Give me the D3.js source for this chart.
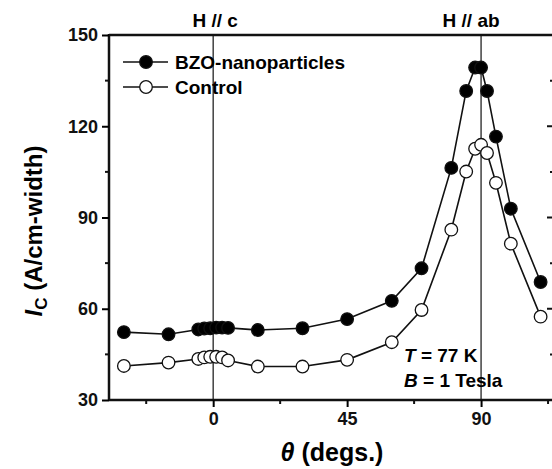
<!DOCTYPE html>
<html>
<head>
<meta charset="utf-8">
<script src="https://cdn.jsdelivr.net/npm/d3@7"></script>
<style>
  body { margin: 0; background: #fff; }
  svg { display: block; font-family: "Liberation Sans", Arial, sans-serif; font-weight: bold; }
</style>
</head>
<body>
<svg id="chart" width="552" height="469"></svg>
<script>
// angle (degs.) between field and sample
const angles = [-30, -15, -5, -3, -1, 1, 3, 5, 15, 30, 45, 60, 70, 80, 85, 88, 90, 92, 95, 100, 110];
const bzo = [52.3, 51.6, 53.2, 53.5, 53.6, 53.8, 53.8, 53.7, 53.0, 53.6, 56.6, 62.6, 73.3, 106.3, 131.6, 139.3, 139.3, 131.6, 116.6, 92.9, 68.8];
const control = [41.2, 42.3, 43.5, 44.0, 44.2, 44.2, 44.0, 43.0, 41.0, 41.0, 43.2, 49.0, 59.6, 86.0, 105.1, 112.6, 113.9, 111.2, 101.4, 81.4, 57.4];
const xTicks = [0, 45, 90];
const xMinor = [-22.5, 22.5, 67.5, 112.5];
const yTicks = [30, 60, 90, 120, 150];
const yMinor = [45, 75, 105, 135];
const refLines = [{ at: 0, label: 'H // c', dx: 2 }, { at: 90, label: 'H // ab', dx: -10 }];

const svg = d3.select('#chart');
const x = d3.scaleLinear().domain([-35, 114.5]).range([109, 554]);
const y = d3.scaleLinear().domain([30, 150]).range([400, 35]);

// reference lines for field orientation
refLines.forEach(r => {
  svg.append('line')
    .attr('x1', x(r.at)).attr('x2', x(r.at))
    .attr('y1', y(150)).attr('y2', y(30))
    .attr('stroke', '#333').attr('stroke-width', 1.4);
  svg.append('text')
    .attr('x', x(r.at) + r.dx).attr('y', 27)
    .attr('text-anchor', 'middle').attr('font-size', 19)
    .text(r.label);
});

// frame
const axisW = 2.5;
svg.append('line').attr('x1', x.range()[0]).attr('x2', 560).attr('y1', y(150)).attr('y2', y(150))
  .attr('stroke', '#111').attr('stroke-width', axisW);
svg.append('line').attr('x1', x.range()[0]).attr('x2', 560).attr('y1', y(30)).attr('y2', y(30))
  .attr('stroke', '#111').attr('stroke-width', axisW);
svg.append('line').attr('x1', x.range()[0]).attr('x2', x.range()[0]).attr('y1', y(150) - 1).attr('y2', y(30) + 1)
  .attr('stroke', '#111').attr('stroke-width', axisW);
svg.append('line').attr('x1', x.range()[1]).attr('x2', x.range()[1]).attr('y1', y(150)).attr('y2', y(30))
  .attr('stroke', '#111').attr('stroke-width', axisW);

const left = svg.append('g').attr('transform', 'translate(' + x.range()[0] + ',0)')
  .call(d3.axisLeft(y).tickValues(yTicks).tickSize(7).tickPadding(4));
left.select('.domain').remove();
left.selectAll('.tick line').attr('stroke-width', 2);
left.selectAll('.tick text').attr('font-size', 18).attr('font-family', null).attr('fill', '#111');
svg.append('g').attr('transform', 'translate(' + x.range()[0] + ',0)')
  .selectAll('line').data(yMinor).join('line')
  .attr('x1', -4).attr('x2', 0).attr('y1', d => y(d)).attr('y2', d => y(d))
  .attr('stroke', '#111').attr('stroke-width', 2);

// right axis ticks point inward
svg.append('g').selectAll('line').data(yTicks.concat(yMinor)).join('line')
  .attr('x1', d => x.range()[1] - (yTicks.includes(d) ? 7 : 4)).attr('x2', x.range()[1])
  .attr('y1', d => y(d)).attr('y2', d => y(d))
  .attr('stroke', '#111').attr('stroke-width', 2);

const bottom = svg.append('g').attr('transform', 'translate(0,' + y(30) + ')')
  .call(d3.axisBottom(x).tickValues(xTicks).tickSize(7).tickPadding(5));
bottom.select('.domain').remove();
bottom.selectAll('.tick line').attr('stroke-width', 2);
bottom.selectAll('.tick text').attr('font-size', 18).attr('font-family', null).attr('fill', '#111');
svg.append('g').attr('transform', 'translate(0,' + y(30) + ')')
  .selectAll('line').data(xMinor).join('line')
  .attr('x1', d => x(d)).attr('x2', d => x(d)).attr('y1', 0).attr('y2', 4)
  .attr('stroke', '#111').attr('stroke-width', 2);

// axis titles
const xt = svg.append('text').attr('x', 332).attr('y', 461).attr('text-anchor', 'middle').attr('font-size', 25);
xt.append('tspan').attr('font-style', 'italic').text('θ');
xt.append('tspan').text(' (degs.)');

const yt = svg.append('text').attr('transform', 'translate(42,231) rotate(-90)')
  .attr('text-anchor', 'middle').attr('font-size', 24);
yt.append('tspan').attr('font-style', 'italic').text('I');
yt.append('tspan').attr('font-size', 17).attr('dy', 5).text('C');
yt.append('tspan').attr('dy', -5).text(' (A/cm-width)');

// series
const series = [
  { name: 'BZO-nanoparticles', values: bzo, fill: '#000' },
  { name: 'Control', values: control, fill: '#fff' }
];
const line = d3.line().x((d, i) => x(angles[i])).y(d => y(d));

series.forEach(s => {
  svg.append('path').datum(s.values)
    .attr('d', line).attr('fill', 'none')
    .attr('stroke', '#111').attr('stroke-width', 1.6);
  svg.append('g').selectAll('circle').data(s.values).join('circle')
    .attr('cx', (d, i) => x(angles[i])).attr('cy', d => y(d))
    .attr('r', 6.3).attr('fill', s.fill)
    .attr('stroke', '#111').attr('stroke-width', 1.3);
});

// legend
series.forEach((s, i) => {
  const ly = 62 + i * 25;
  svg.append('line').attr('x1', 123).attr('x2', 168).attr('y1', ly).attr('y2', ly)
    .attr('stroke', '#111').attr('stroke-width', 1.6);
  svg.append('circle').attr('cx', 146).attr('cy', ly).attr('r', 6.3)
    .attr('fill', s.fill).attr('stroke', '#111').attr('stroke-width', 1.3);
  svg.append('text').attr('x', 175).attr('y', ly + 7).attr('font-size', 19).text(s.name);
});

// conditions
const t1 = svg.append('text').attr('x', 404).attr('y', 362).attr('font-size', 19);
t1.append('tspan').attr('font-style', 'italic').text('T');
t1.append('tspan').text(' = 77 K');
const t2 = svg.append('text').attr('x', 404).attr('y', 387).attr('font-size', 19);
t2.append('tspan').attr('font-style', 'italic').text('B');
t2.append('tspan').text(' = 1 Tesla');
</script>
</body>
</html>
